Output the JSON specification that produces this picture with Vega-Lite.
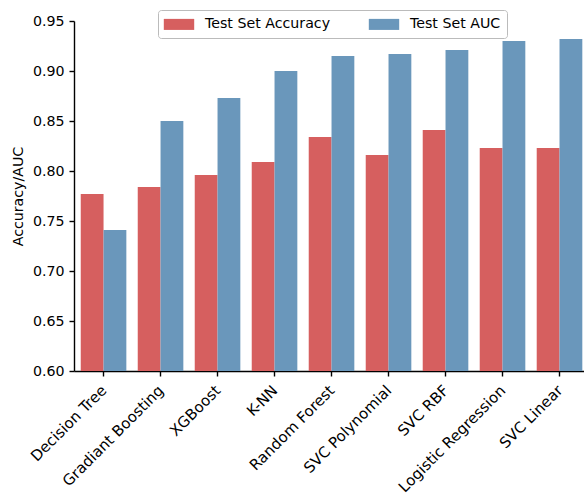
{
  "$schema": "https://vega.github.io/schema/vega-lite/v6.json",
  "width": 510,
  "height": 350,
  "autosize": "none",
  "padding": {"left": 74, "top": 21, "right": 0, "bottom": 127},
  "config": {
    "font": "DejaVu Sans",
    "view": {"stroke": null},
    "axis": {"grid": false, "domainColor": "black", "tickColor": "black", "labelColor": "black", "titleColor": "black", "domainWidth": 1.4, "tickWidth": 1.4, "tickSize": 5, "labelFontSize": 14.2, "titleFontSize": 14.2, "titleFontWeight": "normal", "labelFont": "DejaVu Sans", "titleFont": "DejaVu Sans"}
  },
  "data": {
    "values": [
      {"model": "Decision Tree", "metric": "Test Set Accuracy", "value": 0.777},
      {"model": "Decision Tree", "metric": "Test Set AUC", "value": 0.741},
      {"model": "Gradiant Boosting", "metric": "Test Set Accuracy", "value": 0.784},
      {"model": "Gradiant Boosting", "metric": "Test Set AUC", "value": 0.850},
      {"model": "XGBoost", "metric": "Test Set Accuracy", "value": 0.796},
      {"model": "XGBoost", "metric": "Test Set AUC", "value": 0.873},
      {"model": "K-NN", "metric": "Test Set Accuracy", "value": 0.809},
      {"model": "K-NN", "metric": "Test Set AUC", "value": 0.900},
      {"model": "Random Forest", "metric": "Test Set Accuracy", "value": 0.834},
      {"model": "Random Forest", "metric": "Test Set AUC", "value": 0.915},
      {"model": "SVC Polynomial", "metric": "Test Set Accuracy", "value": 0.816},
      {"model": "SVC Polynomial", "metric": "Test Set AUC", "value": 0.917},
      {"model": "SVC RBF", "metric": "Test Set Accuracy", "value": 0.841},
      {"model": "SVC RBF", "metric": "Test Set AUC", "value": 0.921},
      {"model": "Logistic Regression", "metric": "Test Set Accuracy", "value": 0.823},
      {"model": "Logistic Regression", "metric": "Test Set AUC", "value": 0.930},
      {"model": "SVC Linear", "metric": "Test Set Accuracy", "value": 0.823},
      {"model": "SVC Linear", "metric": "Test Set AUC", "value": 0.932}
    ]
  },
  "mark": {"type": "bar", "clip": true},
  "encoding": {
    "x": {
      "field": "model", "type": "nominal", "sort": null,
      "scale": {"paddingInner": 0.2, "paddingOuter": 0.074, "align": 0.8},
      "axis": {"title": null, "labelAngle": -45, "labelAlign": "right", "labelBaseline": "alphabetic", "labelPadding": 15, "labelOffset": 4, "labelFontSize": 15}
    },
    "xOffset": {"field": "metric", "type": "nominal", "sort": ["Test Set Accuracy", "Test Set AUC"]},
    "y": {
      "field": "value", "type": "quantitative",
      "scale": {"domain": [0.6, 0.95], "zero": false, "nice": false},
      "axis": {"title": "Accuracy/AUC", "values": [0.6, 0.65, 0.7, 0.75, 0.8, 0.85, 0.9, 0.95], "format": ".2f", "labelPadding": 5, "titlePadding": 7}
    },
    "color": {
      "field": "metric", "type": "nominal",
      "scale": {"domain": ["Test Set Accuracy", "Test Set AUC"], "range": ["#d65f5f", "#6a97bb"]},
      "legend": {
        "title": null, "orient": "none", "legendX": 84, "legendY": -11, "direction": "horizontal",
        "symbolType": "M-1.9,-0.69H1.9V0.69H-1.9Z", "symbolSize": 256, "symbolStrokeWidth": 0, "symbolOpacity": 1, "symbolOffset": 7,
        "labelFontSize": 14.2, "labelFont": "DejaVu Sans", "labelColor": "black", "labelOffset": 18,
        "columnPadding": 37, "padding": 6, "strokeColor": "#bbbbbb", "fillColor": "white", "cornerRadius": 3
      }
    }
  }
}
